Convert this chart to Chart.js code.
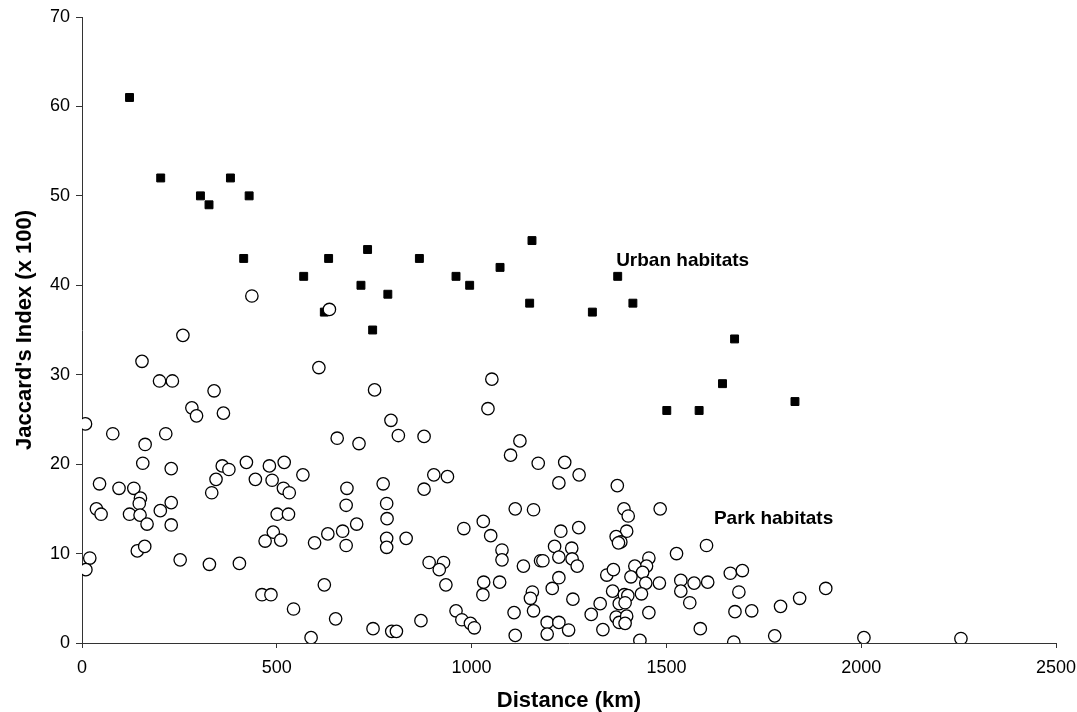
<!DOCTYPE html>
<html>
<head>
<meta charset="utf-8">
<script src="https://cdn.jsdelivr.net/npm/chart.js@4.4.0/dist/chart.umd.min.js"></script>
<style>
  html, body { margin: 0; padding: 0; background: #fff; }
  #wrap { width: 1077px; height: 712px; position: relative; }
</style>
</head>
<body>
<div id="wrap"><canvas id="chart"></canvas></div>
<script>
// distance (km) / Jaccard's index (x 100)
const urbanDist = [122, 202, 304, 326, 381, 429, 415, 569, 633, 733, 716, 785, 866, 960,
  995, 1073, 1155, 622, 746, 1149, 1310, 1375, 1414, 1675, 1644, 1830, 1501, 1584];
const urbanIdx = [61, 52, 50, 49, 52, 50, 43, 41, 43, 44, 40, 39, 43, 41,
  40, 42, 45, 37, 35, 38, 37, 41, 38, 34, 29, 27, 26, 26];

const parkDist = [
  436, 635, 259, 154, 608, 199, 232, 339, 282, 294, 363, 9, 79, 215, 162, 655, 156, 229,
  360, 377, 422, 481, 519, 567, 45, 95, 133, 150, 147, 229, 344, 333, 445, 488, 517, 532,
  680, 37, 49, 122, 149, 167, 201, 229, 501, 530, 678, 491, 470, 510, 597, 631, 669, 678,
  142, 161, 20, 10, 252, 327, 404, 622, 462, 485, 543, 651, 588,
  1052, 751, 1042, 793, 812, 878, 711, 1124, 1100, 1171, 1239, 1276, 1224, 903, 938, 773,
  878, 782, 783, 705, 1112, 1159, 1030, 980, 1049, 1229, 1275, 782, 782, 832, 1078, 1078,
  1213, 1224, 1257, 1258, 1271, 1177, 1183, 1133, 891, 928, 917, 934, 1031, 1029, 1072,
  1156, 1151, 1159, 1207, 1224, 1260, 1109, 960, 975, 997, 1007, 870, 747, 795, 807, 1112,
  1194, 1224, 1194, 1249, 1307, 1330, 1337, 1347, 1364, 1362, 1379, 1371, 1379,
  1374, 1391, 1402, 1484, 1398, 1371, 1383, 1377, 1455, 1449, 1419, 1439, 1409, 1447, 1482,
  1392, 1401, 1436, 1394, 1398, 1394, 1455, 1432, 1526, 1603, 1537, 1537, 1571, 1606, 1560,
  1587, 1664, 1695, 1686, 1676, 1719, 1673, 1778, 1793, 1842, 1909, 2007, 2256];
const parkIdx = [
  38.8, 37.3, 34.4, 31.5, 30.8, 29.3, 29.3, 28.2, 26.3, 25.4, 25.7, 24.5, 23.4, 23.4, 22.2, 22.9, 20.1, 19.5,
  19.8, 19.4, 20.2, 19.8, 20.2, 18.8, 17.8, 17.3, 17.3, 16.2, 15.6, 15.7, 18.3, 16.8, 18.3, 18.2, 17.3, 16.8,
  17.3, 15.0, 14.4, 14.4, 14.3, 13.3, 14.8, 13.2, 14.4, 14.4, 15.4, 12.4, 11.4, 11.5, 11.2, 12.2, 12.5, 10.9,
  10.3, 10.8, 9.5, 8.2, 9.3, 8.8, 8.9, 6.5, 5.4, 5.4, 3.8, 2.7, 0.6,
  29.5, 28.3, 26.2, 24.9, 23.2, 23.1, 22.3, 22.6, 21.0, 20.1, 20.2, 18.8, 17.9, 18.8, 18.6, 17.8,
  17.2, 15.6, 13.9, 13.3, 15.0, 14.9, 13.6, 12.8, 12.0, 12.5, 12.9, 11.7, 10.7, 11.7, 10.4, 9.3,
  10.8, 9.6, 10.6, 9.4, 8.6, 9.2, 9.2, 8.6, 9.0, 9.0, 8.2, 6.5, 6.8, 5.4, 6.8,
  5.7, 5.0, 3.6, 6.1, 7.3, 4.9, 3.4, 3.6, 2.6, 2.2, 1.7, 2.5, 1.6, 1.3, 1.3, 0.85,
  2.3, 2.3, 1.0, 1.45, 3.2, 4.4, 1.5, 7.6, 8.2, 5.8, 4.4, 2.9, 2.3,
  17.6, 15.0, 14.2, 15.0, 12.5, 11.9, 11.3, 11.2, 9.5, 8.6, 8.6, 7.9, 7.4, 6.7, 6.7,
  5.4, 5.3, 5.5, 4.5, 3.0, 2.2, 3.4, 0.3, 10.0, 10.9, 7.0, 5.8, 6.7, 6.8, 4.5,
  1.6, 7.8, 8.1, 5.7, 3.5, 3.6, 0.1, 0.8, 4.1, 5.0, 6.1, 0.6, 0.5];

const xTicks = [0, 500, 1000, 1500, 2000, 2500];
const yTicks = [0, 10, 20, 30, 40, 50, 60, 70];

// in-plot labels, anchored in data units
const labelText = ["Urban habitats", "Park habitats"];
const labelDist = [1371, 1622];
const labelIdx = [42.7, 13.9];

const toPoints = (xs, ys) => xs.map((x, i) => ({ x: x, y: ys[i] }));

const plotLabels = {
  id: "plotLabels",
  afterDatasetsDraw(chart) {
    const { ctx, scales } = chart;
    ctx.save();
    ctx.fillStyle = "#000";
    ctx.font = "bold 19px 'Liberation Sans', Arial, sans-serif";
    ctx.textAlign = "left";
    ctx.textBaseline = "middle";
    labelText.forEach((t, i) => {
      ctx.fillText(t, scales.x.getPixelForValue(labelDist[i]), scales.y.getPixelForValue(labelIdx[i]));
    });
    ctx.restore();
  }
};

const axisColor = "#333";
const tickFont = { family: "'Liberation Sans', Arial, sans-serif", size: 18 };
const titleFont = { family: "'Liberation Sans', Arial, sans-serif", size: 22, weight: "bold" };

new Chart(document.getElementById("chart"), {
  type: "scatter",
  data: {
    datasets: [
      {
        label: "Park habitats",
        data: toPoints(parkDist, parkIdx),
        pointStyle: "circle",
        pointRadius: 6.2,
        pointBorderWidth: 1.3,
        pointBorderColor: "#000",
        pointBackgroundColor: "#fff"
      },
      {
        label: "Urban habitats",
        data: toPoints(urbanDist, urbanIdx),
        pointStyle: "rect",
        pointRadius: 5.6,
        pointBorderWidth: 1,
        pointBorderColor: "#000",
        pointBackgroundColor: "#000"
      }
    ]
  },
  options: {
    responsive: true,
    maintainAspectRatio: false,
    animation: false,
    events: [],
    layout: { padding: { left: 12, top: 17, right: 0, bottom: 0 } },
    plugins: {
      legend: { display: false },
      tooltip: { enabled: false }
    },
    scales: {
      x: {
        type: "linear",
        min: 0,
        max: 2500,
        afterBuildTicks: (s) => { s.ticks = xTicks.map(v => ({ value: v })); },
        afterFit: (s) => { s.height = 69; s.paddingRight = 21; s.paddingLeft = 0; },
        grid: { drawOnChartArea: false, drawTicks: true, tickLength: 5, color: axisColor },
        border: { display: true, color: axisColor, width: 1 },
        ticks: { color: "#000", font: tickFont, padding: 9, maxRotation: 0, callback: (v) => String(v) },
        title: { display: true, text: "Distance (km)", color: "#000", font: titleFont, padding: { top: 0, bottom: -2 } }
      },
      y: {
        type: "linear",
        min: 0,
        max: 70,
        afterBuildTicks: (s) => { s.ticks = yTicks.map(v => ({ value: v })); },
        afterFit: (s) => { s.width = 70; },
        grid: { drawOnChartArea: false, drawTicks: true, tickLength: 6, color: axisColor },
        border: { display: true, color: axisColor, width: 1 },
        ticks: { color: "#000", font: tickFont, padding: 6, callback: (v) => String(v) },
        title: { display: true, text: "Jaccard's Index (x 100)", color: "#000", font: titleFont, padding: { top: 0, bottom: 0 } }
      }
    }
  },
  plugins: [plotLabels]
});
</script>
</body>
</html>
